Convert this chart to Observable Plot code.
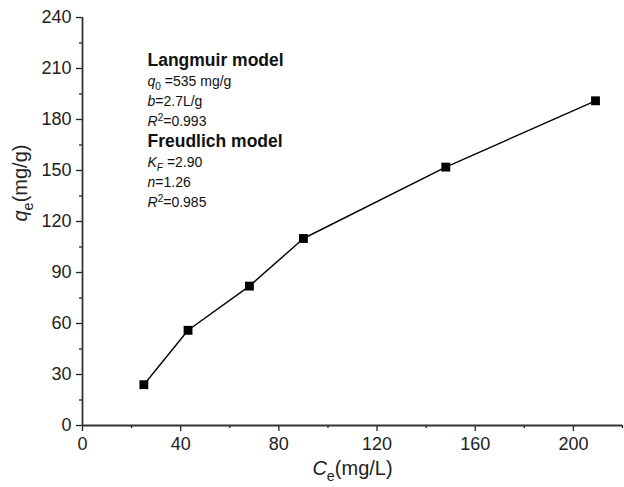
<!DOCTYPE html>
<html><head><meta charset="utf-8">
<script src="https://cdn.jsdelivr.net/npm/d3@7"></script>
<script src="https://cdn.jsdelivr.net/npm/@observablehq/plot@0.6"></script>
<style>
body{margin:0;background:#fff;}
#chart svg{display:block;}
</style></head><body><div id="chart"></div>
<script>
const ce = [25, 43, 68, 90, 148, 209];
const qe = [24, 56, 82, 110, 152, 191];
const xMajor = [0, 40, 80, 120, 160, 200];
const xMinor = [20, 60, 100, 140, 180, 220];
const yMajor = [0, 30, 60, 90, 120, 150, 180, 210, 240];
const yMinor = [15, 45, 75, 105, 135, 165, 195, 225];
const noteLines = [
  "Langmuir model",
  "<i>q</i><sub>0</sub> =535 mg/g",
  "<i>b</i>=2.7L/g",
  "<i>R</i><sup>2</sup>=0.993",
  "Freudlich model",
  "<i>K</i><isub>F</isub> =2.90",
  "<i>n</i>=1.26",
  "<i>R</i><sup>2</sup>=0.985"
];
const noteBold = [true, false, false, false, true, false, false, false];
const xLabel = "<i>C</i><sub>e</sub>(mg/L)";
const yLabel = "<i>q</i><sub>e</sub>(mg/g)";

const data = ce.map((c, i) => ({ce: c, qe: qe[i]}));
const FONT = "Liberation Sans, Arial, Helvetica, sans-serif";
const INK = "#222";

const noteMarks = noteLines.map((t, i) => Plot.text([t], {
  text: d => d, frameAnchor: "top-left", textAnchor: "start", lineAnchor: "bottom",
  dx: 65, dy: 48 + i * 20.25,
  fontSize: noteBold[i] ? 17.5 : 14, fontWeight: noteBold[i] ? "bold" : "normal",
  fill: "#111", className: "rich-" + (noteBold[i] ? 17.5 : 14)
}));

const chart = Plot.plot({
  width: 624, height: 487,
  marginLeft: 82, marginRight: 2, marginTop: 17, marginBottom: 62,
  style: {fontFamily: FONT, color: INK, background: "#fff"},
  x: {domain: [0, 220], label: null},
  y: {domain: [0, 240], label: null},
  marks: [
    Plot.axisX(xMajor, {tickSize: 6, tickPadding: 6, fontSize: 18, strokeWidth: 1.3, label: null}),
    Plot.axisX(xMinor, {tickSize: 3, tickFormat: () => "", strokeWidth: 1.3, label: null}),
    Plot.axisY(yMajor, {tickSize: 6, tickPadding: 5, fontSize: 18, strokeWidth: 1.3, label: null}),
    Plot.axisY(yMinor, {tickSize: 3, tickFormat: () => "", strokeWidth: 1.3, label: null}),
    Plot.ruleY([0], {stroke: "#333", strokeWidth: 1.8}),
    Plot.ruleX([0], {stroke: "#333", strokeWidth: 1.8}),
    Plot.line(data, {x: "ce", y: "qe", stroke: "#000", strokeWidth: 1.4}),
    Plot.dot(data, {x: "ce", y: "qe", symbol: "square", r: 5, fill: "#000", stroke: "none"}),
    ...noteMarks,
    Plot.text([xLabel], {text: d => d, frameAnchor: "bottom", dy: 49, fontSize: 20, fill: INK, className: "rich-20"}),
    Plot.text([yLabel], {text: d => d, frameAnchor: "left", dx: -62, rotate: -90, fontSize: 20, fill: INK, className: "rich-20"})
  ]
});
document.getElementById("chart").appendChild(chart);

function rich(textEl, markup, size) {
  textEl.textContent = "";
  const re = /<(i|sub|sup|isub)>(.*?)<\/\1>|([^<]+)/g;
  let m, shift = 0;
  while ((m = re.exec(markup))) {
    const ts = document.createElementNS("http://www.w3.org/2000/svg", "tspan");
    let target = 0;
    if (m[1]) {
      ts.textContent = m[2];
      if (m[1] === "i" || m[1] === "isub") ts.setAttribute("font-style", "italic");
      if (m[1] === "sub" || m[1] === "isub") { ts.setAttribute("font-size", size * 0.72); target = size * 0.3; }
      if (m[1] === "sup") { ts.setAttribute("font-size", size * 0.72); target = -size * 0.4; }
    } else ts.textContent = m[3];
    if (target !== shift) { ts.setAttribute("dy", target - shift); shift = target; }
    textEl.appendChild(ts);
  }
}
chart.querySelectorAll("g[class^='rich-'] text").forEach(t => {
  const size = +t.parentNode.getAttribute("class").split("rich-")[1];
  rich(t, t.textContent, size);
});
</script></body></html>
